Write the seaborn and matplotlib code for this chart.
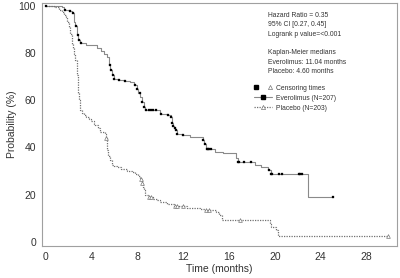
import numpy as np
import pandas as pd
import matplotlib
matplotlib.use("Agg")
import matplotlib.pyplot as plt
import seaborn as sns
from matplotlib.lines import Line2D
from matplotlib.legend_handler import HandlerTuple

# Everolimus KM steps (time in months, survival %)
evero_t = [0, 1.4, 1.6, 2.0, 2.3, 2.5, 2.6, 2.7, 2.75, 2.85, 3.0, 3.5, 4.2, 4.5, 4.8, 5.1, 5.4,
           5.55, 5.65, 5.8, 5.94, 6.3, 6.8, 7.4, 7.7, 7.97, 8.1, 8.26, 8.4, 8.55, 8.7, 8.84,
           10.0, 10.6, 10.9, 11.0, 11.1, 11.2, 11.3, 11.45, 11.9, 12.6, 13.7, 13.85, 14.0,
           14.5, 14.8, 15.5, 16.6, 16.75, 18.3, 18.8, 19.4, 19.65, 22.9, 25.1]
evero_s = [100, 99.5, 98.3, 97.6, 96.8, 93, 91.6, 89, 87.4, 85.5, 84, 83.5, 83.2, 82, 81, 79.5, 78.2,
           75, 72.6, 70.5, 69.1, 68.5, 68, 67.7, 66.5, 64.9, 63, 61.3, 59, 57.1, 56, 55.7,
           54.3, 53.6, 52.9, 50.5, 49, 48, 47.2, 45.8, 45.4, 44.4, 43, 41.6, 39.5,
           39.1, 38, 37.4, 35.3, 33.8, 32.4, 31.7, 30.3, 28.9, 19.0, 19.0]
evero_cens = [0.05, 1.65, 2.1, 2.35, 2.65, 2.8, 2.9, 3.05, 5.6, 5.7, 5.85, 6.0, 6.4, 6.9, 7.8,
              8.0, 8.2, 8.45, 8.6, 8.8, 9.0, 9.2, 9.4, 9.6, 10.1, 10.7, 10.95, 11.05, 11.15,
              11.25, 11.35, 11.5, 11.95, 13.75, 13.9, 14.05, 14.15, 14.25, 14.4, 16.8, 16.9,
              17.3, 17.9, 19.5, 19.7, 19.8, 20.4, 20.6, 22.1, 22.2, 22.4, 25.1]

# Placebo KM steps
plac_t = [0, 0.7, 1.16, 1.45, 1.6, 1.74, 1.9, 2.03, 2.17, 2.3, 2.4, 2.5, 2.6, 2.7, 2.75, 2.8,
          2.85, 2.9, 2.97, 3.04, 3.2, 3.33, 3.55, 3.77, 4.0, 4.2, 4.35, 4.55, 4.78, 5.2, 5.3,
          5.36, 5.4, 5.45, 5.6, 5.8, 6.0, 6.23, 6.6, 7.1, 7.5, 7.8, 8.1, 8.26, 8.4, 8.5, 8.55,
          8.7, 9.0, 9.4, 9.7, 10.0, 10.6, 11.2, 12.3, 13.5, 13.9, 14.9, 15.1, 15.4, 19.55,
          19.65, 20.1, 20.3, 29.9]
plac_s = [100, 99.5, 98, 97.2, 96, 95.1, 93, 90.9, 88.1, 83.9, 82, 79.7, 77, 74, 70.5, 67,
          63, 59.9, 57.5, 55.7, 54.5, 53.6, 53, 52.2, 51, 50, 49.3, 48, 46.5, 45.8, 44,
          43, 38.8, 36.5, 34.5, 32.4, 32, 31.5, 31, 30, 29.5, 28.9, 28, 26.8, 24.7, 23, 21.9,
          19.7, 19, 18, 17.5, 16.9, 16.2, 15.1, 14.1, 13.8, 13.4, 12.7, 11.3, 9.2, 7.5,
          6.3, 5.2, 2.6, 2.6]
plac_cens = [5.3, 8.3, 8.45, 9.05, 9.2, 11.3, 11.5, 12.0, 14.0, 14.3, 17.0, 29.9]

x_ticks = [0, 4, 8, 12, 16, 20, 24, 28]
y_ticks = [0, 20, 40, 60, 80, 100]

info_lines = ["Hazard Ratio = 0.35", "95% CI [0.27, 0.45]", "Logrank p value=<0.001", "",
              "Kaplan-Meier medians", "Everolimus: 11.04 months", "Placebo: 4.60 months"]


def step_lookup(ts, ss, tc):
    idx = np.searchsorted(np.asarray(ts), np.asarray(tc), side="right") - 1
    return np.asarray(ss)[idx]


sns.set_style("white")
plt.rcParams["font.family"] = ["Liberation Sans", "DejaVu Sans"]

fig = plt.figure(figsize=(4.0, 2.78), dpi=100)
ax = fig.add_axes([0.104, 0.115, 0.888, 0.873])

df_e = pd.DataFrame({"t": evero_t, "s": evero_s})
df_p = pd.DataFrame({"t": plac_t, "s": plac_s})
sns.lineplot(data=df_e, x="t", y="s", ax=ax, estimator=None, sort=False,
             drawstyle="steps-post", color="#8a8a8a", lw=0.8)
sns.lineplot(data=df_p, x="t", y="s", ax=ax, estimator=None, sort=False,
             drawstyle="steps-post", color="#707070", lw=0.9, linestyle=(0, (1, 1)))

ce = pd.DataFrame({"t": evero_cens, "s": step_lookup(evero_t, evero_s, evero_cens)})
cp = pd.DataFrame({"t": plac_cens, "s": step_lookup(plac_t, plac_s, plac_cens)})
sns.scatterplot(data=ce, x="t", y="s", ax=ax, marker="s", s=4, color="black",
                edgecolor="black", linewidth=0.2, zorder=3)
sns.scatterplot(data=cp, x="t", y="s", ax=ax, marker="^", s=7, facecolor="white",
                edgecolor="#777777", linewidth=0.5, zorder=3)

ax.set_xlim(-0.35, 30.65)
ax.set_ylim(-1.8, 101)
ax.set_xticks(x_ticks)
ax.set_xticks(np.arange(0, 31, 2), minor=True)
ax.set_yticks(y_ticks)
ax.set_yticks(np.arange(0, 101, 10), minor=True)
ax.tick_params(axis="both", which="both", direction="out", colors="#999999",
               labelcolor="#333333", labelsize=7.5)
ax.tick_params(which="major", length=3, width=0.6)
ax.tick_params(which="minor", length=2, width=0.6)
ax.tick_params(axis="x", pad=1)
ax.tick_params(axis="y", pad=1)
for sp in ax.spines.values():
    sp.set_color("#a0a0a0")
    sp.set_linewidth(0.8)
ax.set_xlabel("Time (months)", fontsize=7.5, color="#333333", labelpad=2)
ax.set_ylabel("Probability (%)", fontsize=7.5, color="#333333", labelpad=1)

for i, line in enumerate(info_lines):
    ax.text(0.638, 0.95 - i * 0.0385, line, transform=ax.transAxes, fontsize=4.9,
            color="#333333", va="center", ha="left")

sq = Line2D([], [], marker="s", color="black", ls="none", markersize=2.4)
tr = Line2D([], [], marker="^", markerfacecolor="white", markeredgecolor="#777777",
            ls="none", markersize=3.0, markeredgewidth=0.5)
he = Line2D([], [], marker="s", color="#8a8a8a", markerfacecolor="black",
            markeredgecolor="black", lw=0.8, markersize=2.4)
hp = Line2D([], [], marker="^", color="#707070", ls=(0, (1, 1)), lw=0.9,
            markerfacecolor="white", markeredgecolor="#777777", markersize=3.0,
            markeredgewidth=0.5)
leg = ax.legend([(sq, tr), he, hp],
                ["Censoring times", "Everolimus (N=207)", "Placebo (N=203)"],
                handler_map={tuple: HandlerTuple(ndivide=None, pad=1.5)},
                loc="upper left", bbox_to_anchor=(0.585, 0.685), frameon=False,
                fontsize=4.9, handlelength=2.6, handletextpad=0.6, labelspacing=0.45,
                borderpad=0.2)
for t in leg.get_texts():
    t.set_color("#333333")

fig.savefig("out.png", dpi=100)
